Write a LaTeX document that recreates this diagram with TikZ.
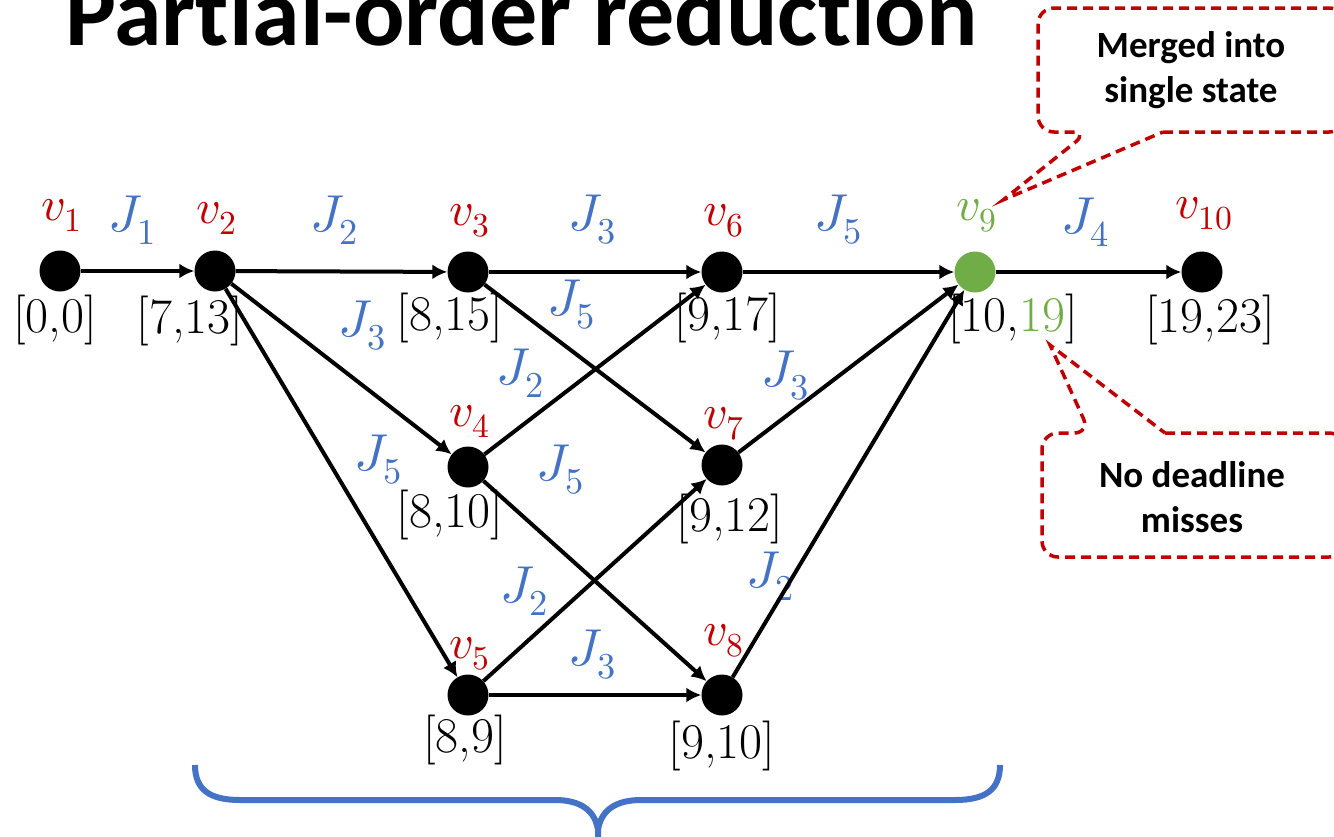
\documentclass[tikz,border=0pt]{standalone}
\usepackage{fontspec}
\usepackage{unicode-math}
\usetikzlibrary{arrows.meta,positioning}
\newfontfamily\calibri{Carlito}[Ligatures=NoCommon]
\definecolor{pored}{RGB}{192,0,0}
\definecolor{poblue}{RGB}{68,114,196}
\definecolor{pogreen}{RGB}{112,173,71}

\begin{document}
\begin{tikzpicture}[x=1pt,y=-1pt,
  every node/.style={font=\fontsize{50}{56}\selectfont,inner sep=2pt},
  state/.style={circle,fill=black,minimum size=41pt,inner sep=0pt},
  vlab/.style={text=pored,anchor=base,font=\fontsize{48}{52}\selectfont},
  ivl/.style={anchor=base},
  jlab/.style={text=poblue,font=\fontsize{52}{56}\selectfont},
  edge/.style={-{Latex[length=15pt,width=15pt]},line width=4pt},
  callout/.style={draw=pored,dash pattern=on 10pt off 6pt,line width=3.5pt,rounded corners=16pt},
  note/.style={font=\calibri\bfseries\fontsize{37}{45}\selectfont,align=center},
  brace/.style={draw=poblue,line width=6pt}
]
\useasboundingbox (0,0) rectangle (1334,836);
\clip (0,0) rectangle (1334,836);

\node[anchor=base west,inner sep=0pt,font=\calibri\bfseries\fontsize{96}{100}\selectfont] (title) at (65,45) {Partial-order reduction};

% states
\node[state] (v1)  at (60,271)  {};
\node[state] (v2)  at (215,271) {};
\node[state] (v3)  at (468,272) {};
\node[state] (v6)  at (722,272) {};
\node[state,fill=pogreen] (v9) at (975,272) {};
\node[state] (v10) at (1202,272) {};
\node[state] (v4)  at (468,467) {};
\node[state] (v7)  at (722,465) {};
\node[state] (v5)  at (468,695) {};
\node[state] (v8)  at (722,695) {};

% state names
\foreach \v/\i/\h in {v1/1/51,v2/2/48,v3/3/47,v4/4/41,v5/5/37,v6/6/47,v7/7/37,v8/8/50,v10/10/54}
  \node[vlab] at ([shift={(2,-\h)}]\v) {$v_{\i}$};
\node[vlab,text=pogreen] at ([shift={(2,-52)}]v9) {$v_9$};

% intervals
\node[ivl] (i1)  at ([shift={(-5,61)}]v1)  {[0,0]};
\node[ivl] (i2)  at ([shift={(-25,62)}]v2) {[7,13]};
\node[ivl] (i3)  at ([shift={(-18,58)}]v3) {[8,15]};
\node[ivl] (i6)  at ([shift={(6,58)}]v6)   {[9,17]};
\node[ivl] (i9)  at ([shift={(38,59)}]v9)  {[10,{\color{pogreen}19}]};
\node[ivl] (i10) at ([shift={(8,60)}]v10)  {[19,23]};
\node[ivl] (i4)  at ([shift={(-18,60)}]v4) {[8,10]};
\node[ivl] (i7)  at ([shift={(8,66)}]v7)   {[9,12]};
\node[ivl] (i5)  at ([shift={(-3,57)}]v5)  {[8,9]};
\node[ivl] (i8)  at ([shift={(0,63)}]v8)   {[9,10]};

% job labels
\node[jlab] (j12)  at (132,220) {$J_1$};
\node[jlab] (j23)  at (334,220) {$J_2$};
\node[jlab] (j36)  at (592,220) {$J_3$};
\node[jlab] (j69)  at (838,220) {$J_5$};
\node[jlab] (j910) at (1085,222) {$J_4$};
\node[jlab] (j24)  at (362,326) {$J_3$};
\node[jlab] (j37)  at (571,305) {$J_5$};
\node[jlab] (j46)  at (520,373) {$J_2$};
\node[jlab] (j79)  at (785,376) {$J_3$};
\node[jlab] (j25)  at (378,460) {$J_5$};
\node[jlab] (j48)  at (560,470) {$J_5$};
\node[jlab] (j57)  at (524,591) {$J_2$};
\node[jlab] (j89)  at (770,576) {$J_2$};
\node[jlab] (j58)  at (592,655) {$J_3$};

\foreach \a/\b in {v1/v2,v2/v3,v2/v4,v2/v5,v3/v6,v3/v7,v4/v6,v4/v8,
                   v5/v7,v5/v8,v6/v9,v7/v9,v8/v9,v9/v10}
  \draw[edge] (\a) -- (\b);

% callouts
\node[note] (merged) at (1191,70)  {Merged into\\single state};
\node[note] (nomiss) at (1192,497) {No deadline\\misses};
\coordinate (tipm) at (1003,200);
\coordinate (tipd) at (1050,345);
\draw[callout] (1163,132) -- (1345,132) -- (1345,8) -- (1038,8) -- (1038,132)
  -- (1088,132) [sharp corners] -- (tipm) -- (1163,132);
\draw[callout] (1165,433) -- (1345,433) -- (1345,557) -- (1042,557) -- (1042,433)
  -- (1090,433) [sharp corners] -- (tipd) -- (1165,433);

% brace
\coordinate (bl) at (195,765);
\coordinate (br) at (1000,765);
\coordinate (bm) at (598,830);
\draw[brace] (bl) .. controls (195,790) and (210,800) .. (240,800) -- (555,800)
  .. controls (580,800) and (595,810) .. (bm) -- (598,840);
\draw[brace] (br) .. controls (1000,790) and (985,800) .. (955,800) -- (641,800)
  .. controls (616,800) and (601,810) .. (bm);

\end{tikzpicture}
\end{document}
